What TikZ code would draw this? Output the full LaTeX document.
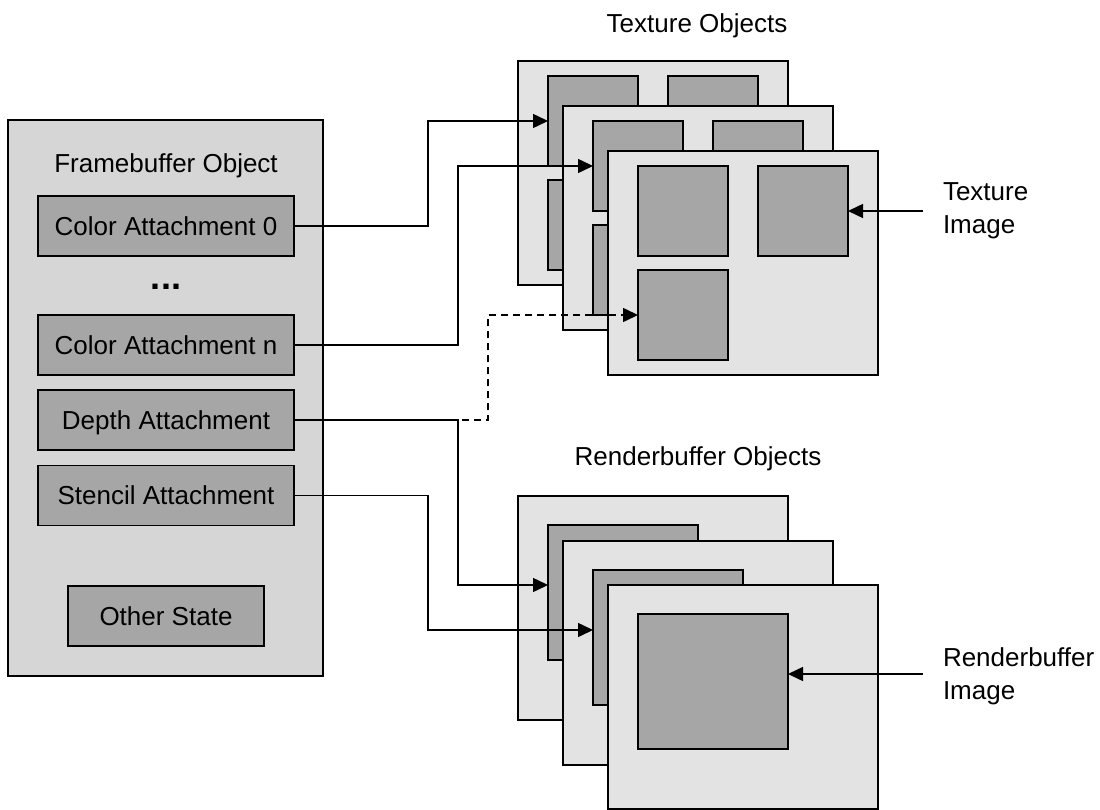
\documentclass[tikz,border=0pt]{standalone}
\usepackage{fontspec}
\setmainfont{Liberation Sans}
\usetikzlibrary{arrows.meta}

\definecolor{fbgray}{HTML}{D6D6D6}
\definecolor{pagegray}{HTML}{E3E3E3}
\definecolor{cellgray}{HTML}{A6A6A6}

\tikzset{
  every node/.style={font=\fontsize{26}{30}\selectfont, inner sep=0pt, outer sep=0pt},
  fbo/.style={draw, fill=fbgray, line width=1.8pt, anchor=north west,
              minimum width=315pt, minimum height=556pt},
  slot/.style={draw, fill=cellgray, line width=1.8pt, minimum width=256pt,
               minimum height=60pt, text height=18.6pt, text depth=0pt},
  page/.style={draw, fill=pagegray, line width=1.8pt, anchor=north west,
               minimum width=270pt, minimum height=224pt},
  cell/.style={draw, fill=cellgray, line width=1.8pt, anchor=north west,
               minimum width=90pt, minimum height=90pt},
  rcell/.style={cell, minimum width=150pt, minimum height=135pt},
  caption/.style={text height=18.6pt, text depth=0pt},
  sidelabel/.style={anchor=base west},
  link/.style={line width=1.5pt, -{Triangle[length=15pt,width=14pt]}},
  dashlink/.style={link, dash pattern=on 7pt off 5pt},
}

% one texture page with its three images
\newcommand{\texpage}[3]{%
  \node[page] (#1) at (#2,#3) {};
  \node[cell] (#1a) at ([xshift=30pt,yshift=-15pt]#1.north west) {};
  \node[cell] (#1b) at ([xshift=150pt,yshift=-15pt]#1.north west) {};
  \node[cell] (#1c) at ([xshift=30pt,yshift=-119pt]#1.north west) {};
}
% one renderbuffer page with its image
\newcommand{\rbpage}[3]{%
  \node[page] (#1) at (#2,#3) {};
  \node[rcell] (#1c) at ([xshift=30pt,yshift=-29pt]#1.north west) {};
}

\begin{document}
\begin{tikzpicture}[x=1pt, y=-1pt]
  \useasboundingbox (0,0) rectangle (1100,810);

  % framebuffer object
  \node[fbo] (fb) at (8,120) {};
  \node[caption] (fbtitle) at (166,163) {Framebuffer Object};
  \node[slot] (ca0) at (166,226) {Color Attachment 0};
  \node (dots) at (166,287) {\fontsize{36}{36}\selectfont\bfseries ...};
  \node[slot] (can) at (166,345) {Color Attachment n};
  \node[slot] (depth) at (166,420) {Depth Attachment};
  \node[slot] (stencil) at (166,495.5) {Stencil Attachment};
  \node[slot, minimum width=196pt] (other) at (166,616) {Other State};

  % texture objects
  \node[caption] (texttl) at (697,23.5) {Texture Objects};
  \texpage{t1}{518}{61}
  \texpage{t2}{563}{106}
  \texpage{t3}{608}{151}

  % renderbuffer objects
  \node[caption] (rbttl) at (698,456) {Renderbuffer Objects};
  \rbpage{r1}{518}{496}
  \rbpage{r2}{563}{541}
  \rbpage{r3}{608}{585}

  % side labels
  \node[sidelabel] (tilab1) at (943,201) {Texture};
  \node[sidelabel] (tilab2) at (943,234) {Image};
  \node[sidelabel] (rilab1) at (943,666) {Renderbuffer};
  \node[sidelabel] (rilab2) at (943,699) {Image};
  \coordinate (tiend) at (923,211);
  \coordinate (riend) at (923,674);

  % attachment connections
  \draw[link] (ca0.east) -- ++(134,0) |- (t1a.west);
  \draw[link] (can.east) -- ++(164,0) |- (t2a.west);
  \draw[dashlink] (depth.east) -- ++(194,0) |- (t3c.west);
  \draw[link] (depth.east) -- ++(164,0) |- ([yshift=7.5pt]r1c.west);
  \draw[link] (stencil.east) -- ++(134,0) |- ([yshift=7.5pt]r2c.west);
  \draw[link] (tiend) -- (t3b.east);
  \draw[link] (riend) -- ([yshift=7.5pt]r3c.east);
\end{tikzpicture}
\end{document}
